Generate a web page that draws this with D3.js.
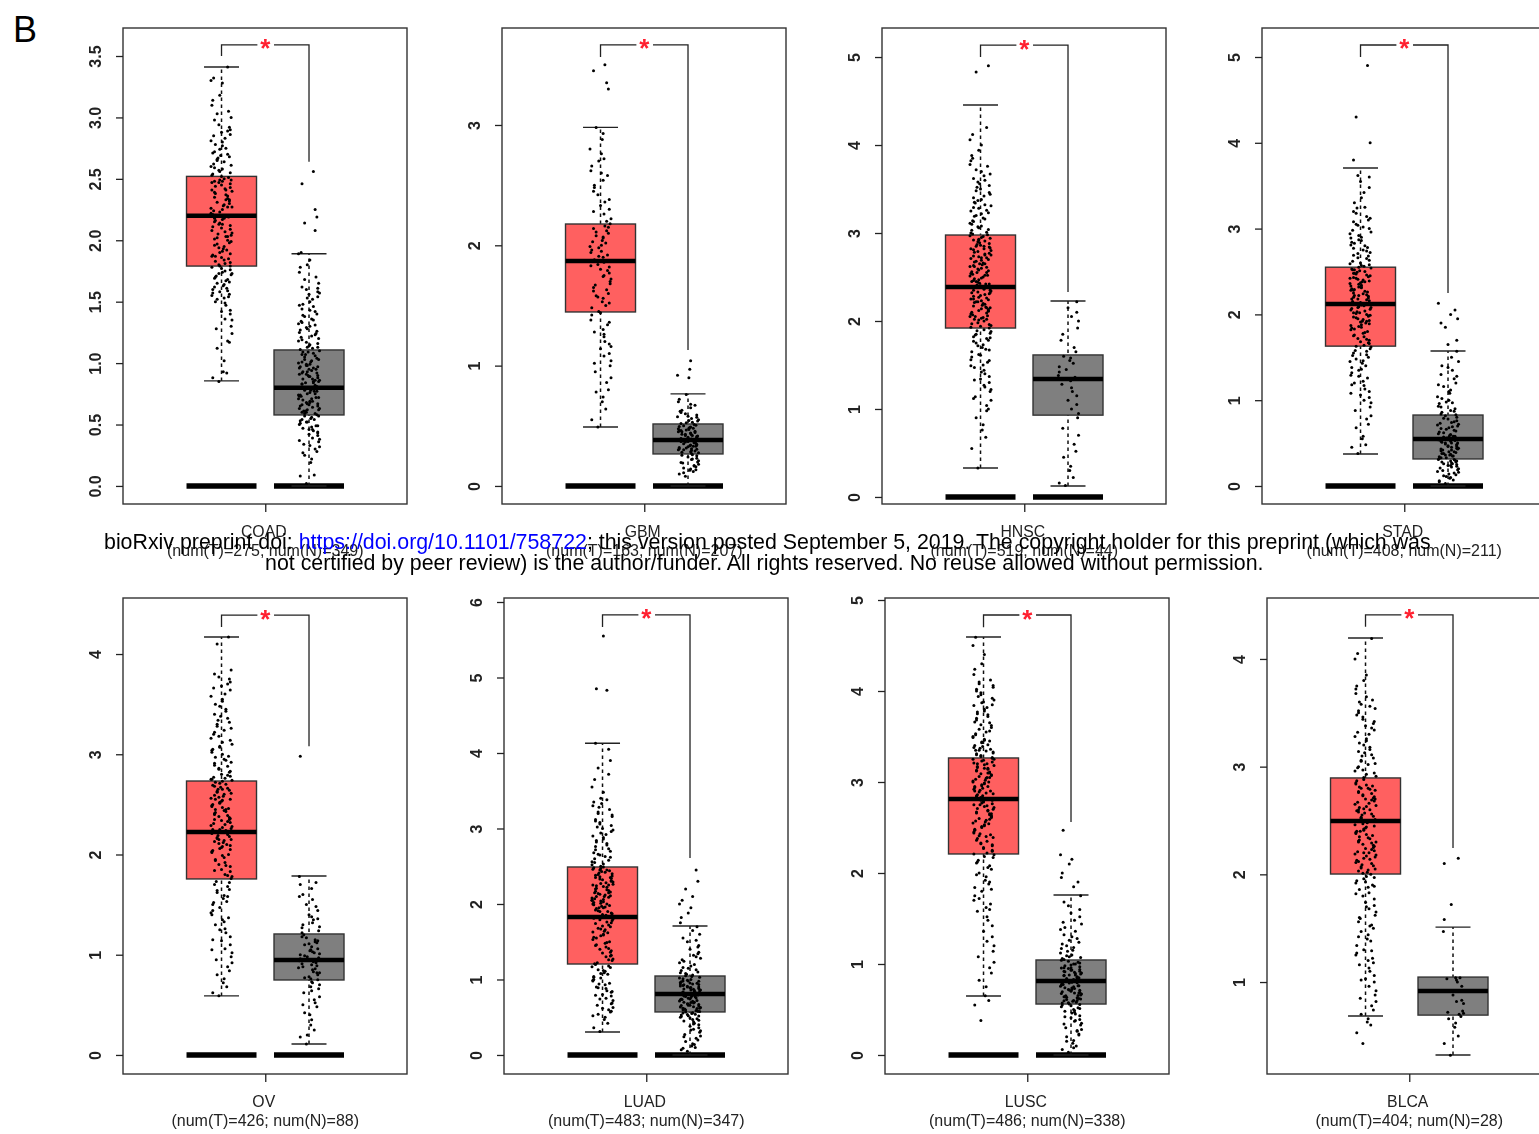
<!DOCTYPE html>
<html>
<head>
<meta charset="utf-8">
<script src="https://cdn.jsdelivr.net/npm/d3@7"></script>
<style>
  html, body { margin: 0; padding: 0; background: #fff; overflow: hidden; }
  svg { display: block; font-family: "Liberation Sans", Arial, sans-serif; }
</style>
</head>
<body>
<div id="chart"></div>
<script>
const cancers = ["COAD", "GBM", "HNSC", "STAD", "OV", "LUAD", "LUSC", "BLCA"];
const numT = [275, 163, 519, 408, 426, 483, 486, 404];
const numN = [349, 207, 44, 211, 88, 347, 338, 28];

const yDomains = [[-0.147, 3.728], [-0.15, 3.806], [-0.08, 5.33], [-0.21, 5.338], [-0.19, 4.559], [-0.252, 6.053], [-0.209, 5.022], [0.146, 4.566]];
const yTicks = [[0, 0.5, 1, 1.5, 2, 2.5, 3, 3.5], [0, 1, 2, 3], [0, 1, 2, 3, 4, 5], [0, 1, 2, 3, 4, 5], [0, 1, 2, 3, 4], [0, 1, 2, 3, 4, 5, 6], [0, 1, 2, 3, 4, 5], [1, 2, 3, 4]];

// whisker low, q1, median, q3, whisker high
const tumorBoxes = [[0.855, 1.79, 2.2, 2.52, 3.41], [0.49, 1.446, 1.87, 2.177, 2.98], [0.33, 1.92, 2.386, 2.977, 4.455], [0.373, 1.63, 2.12, 2.55, 3.706], [0.589, 1.756, 2.224, 2.733, 4.17], [0.305, 1.205, 1.828, 2.49, 4.13], [0.648, 2.209, 2.813, 3.264, 4.593], [0.684, 2.003, 2.495, 2.895, 4.195]];
const normalBoxes = [[0, 0.578, 0.8, 1.107, 1.89], [0, 0.266, 0.382, 0.515, 0.765], [0.125, 0.93, 1.34, 1.614, 2.227], [0, 0.315, 0.548, 0.827, 1.573], [0.11, 0.748, 0.948, 1.207, 1.786], [0, 0.57, 0.808, 1.046, 1.709], [0, 0.56, 0.813, 1.044, 1.758], [0.322, 0.693, 0.916, 1.046, 1.51]];

// bracket top, left foot, right foot
const brackets = [[3.59, 3.5, 2.64], [3.665, 3.565, 1.13], [5.136, 5.0, 2.33], [5.14, 5.0, 2.25], [4.389, 4.27, 3.08], [5.83, 5.67, 2.61], [4.835, 4.7, 2.56], [4.41, 4.3, 2.245]];

const jitter = [-0.03, 0.09, -0.11, 0.04, 0.11, -0.07, 0.01, -0.1, 0.07, -0.02, 0.1, -0.05, 0.03, -0.12, 0.06, -0.08, 0.12, 0, -0.04, 0.08, -0.09, 0.02, 0.05, -0.06, 0.1, -0.01, -0.11, 0.07, 0.03, -0.07, 0.11, -0.03, 0.05, -0.1, 0.09, -0.05, 0.01, 0.12, -0.08, 0.04, -0.02];

const tumorPoints = [
  [0.85,0.88,0.92,0.93,1.02,1.12,1.17,1.18,1.24,1.28,1.3,1.35,1.36,1.4,1.42,1.43,1.47,1.49,1.5,1.53,1.54,1.55,1.57,1.58,1.6,1.61,1.63,1.64,1.65,1.66,1.68,1.69,1.71,1.72,1.73,1.75,1.76,1.77,1.79,1.8,1.81,1.83,1.84,1.85,1.87,1.88,1.9,1.91,1.92,1.93,1.95,1.97,1.98,2,2.01,2.03,2.04,2.06,2.07,2.09,2.1,2.12,2.13,2.15,2.16,2.18,2.19,2.2,2.21,2.23,2.25,2.26,2.28,2.29,2.31,2.32,2.34,2.35,2.37,2.38,2.4,2.42,2.43,2.45,2.46,2.47,2.48,2.49,2.5,2.51,2.53,2.54,2.56,2.58,2.6,2.62,2.64,2.66,2.68,2.7,2.72,2.75,2.78,2.8,2.83,2.86,2.88,2.9,2.94,2.98,3,3.03,3.05,3.1,3.14,3.18,3.28,3.3,3.32,3.41],
  [0.49,0.55,0.64,0.7,0.74,0.78,0.8,0.86,0.9,0.95,1,1.04,1.08,1.1,1.14,1.18,1.2,1.24,1.28,1.3,1.34,1.38,1.42,1.45,1.48,1.5,1.53,1.56,1.58,1.6,1.63,1.65,1.67,1.7,1.72,1.75,1.77,1.8,1.82,1.84,1.86,1.88,1.9,1.92,1.94,1.96,1.98,2,2.02,2.04,2.06,2.08,2.1,2.12,2.14,2.16,2.18,2.22,2.26,2.3,2.33,2.38,2.42,2.45,2.5,2.54,2.58,2.62,2.66,2.7,2.76,2.8,2.88,2.93,2.98,3.3,3.35,3.45,3.5],
  [0.33,0.55,0.68,0.76,0.82,0.9,1,1.04,1.1,1.14,1.2,1.22,1.27,1.3,1.34,1.37,1.4,1.44,1.47,1.5,1.53,1.56,1.59,1.62,1.65,1.68,1.7,1.73,1.75,1.78,1.8,1.82,1.84,1.86,1.88,1.9,1.92,1.94,1.96,1.98,2,2.02,2.04,2.06,2.08,2.1,2.12,2.14,2.16,2.18,2.2,2.22,2.24,2.26,2.28,2.3,2.32,2.34,2.36,2.38,2.4,2.42,2.44,2.46,2.48,2.5,2.52,2.54,2.56,2.58,2.6,2.62,2.64,2.66,2.68,2.7,2.72,2.74,2.76,2.78,2.8,2.82,2.84,2.86,2.88,2.9,2.92,2.94,2.96,2.98,3,3.03,3.06,3.08,3.11,3.14,3.17,3.2,3.23,3.26,3.29,3.32,3.35,3.38,3.42,3.46,3.5,3.54,3.58,3.62,3.67,3.72,3.76,3.82,3.88,3.94,4,4.06,4.12,4.2,4.83,4.9],
  [0.38,0.45,0.48,0.55,0.58,0.68,0.72,0.78,0.82,0.88,0.92,0.97,1,1.03,1.06,1.1,1.13,1.17,1.2,1.22,1.26,1.29,1.32,1.35,1.38,1.4,1.43,1.46,1.48,1.5,1.53,1.55,1.58,1.6,1.62,1.64,1.66,1.68,1.7,1.72,1.74,1.76,1.78,1.8,1.82,1.84,1.86,1.88,1.9,1.92,1.94,1.96,1.98,2,2.02,2.04,2.06,2.08,2.1,2.12,2.14,2.16,2.18,2.2,2.22,2.24,2.26,2.28,2.3,2.32,2.34,2.36,2.38,2.4,2.42,2.44,2.46,2.48,2.5,2.52,2.54,2.56,2.58,2.6,2.63,2.66,2.69,2.72,2.75,2.78,2.81,2.84,2.87,2.9,2.94,2.98,3.02,3.05,3.1,3.14,3.2,3.25,3.3,3.36,3.42,3.48,3.55,3.6,3.62,3.8,4,4.3,4.9],
  [0.59,0.62,0.68,0.72,0.76,0.8,0.84,0.88,0.92,0.95,0.98,1.02,1.06,1.1,1.14,1.18,1.22,1.26,1.3,1.33,1.37,1.4,1.44,1.47,1.5,1.53,1.56,1.59,1.62,1.65,1.68,1.7,1.73,1.76,1.78,1.8,1.83,1.85,1.88,1.9,1.92,1.95,1.97,2,2.02,2.04,2.06,2.08,2.1,2.12,2.14,2.16,2.18,2.2,2.22,2.24,2.26,2.28,2.3,2.32,2.34,2.36,2.38,2.4,2.42,2.44,2.46,2.48,2.5,2.52,2.54,2.56,2.58,2.6,2.62,2.64,2.66,2.68,2.7,2.72,2.74,2.76,2.78,2.8,2.83,2.86,2.89,2.92,2.95,2.98,3.02,3.05,3.08,3.12,3.16,3.2,3.24,3.28,3.32,3.36,3.4,3.45,3.5,3.55,3.6,3.64,3.68,3.72,3.77,3.8,3.84,4.1,4.17],
  [0.31,0.36,0.42,0.47,0.5,0.54,0.57,0.6,0.63,0.66,0.69,0.72,0.75,0.78,0.8,0.83,0.85,0.88,0.9,0.93,0.95,0.98,1,1.02,1.04,1.07,1.09,1.11,1.13,1.16,1.18,1.2,1.22,1.25,1.27,1.3,1.32,1.35,1.38,1.4,1.43,1.46,1.48,1.5,1.53,1.56,1.58,1.6,1.62,1.64,1.66,1.68,1.7,1.72,1.74,1.76,1.78,1.8,1.82,1.84,1.86,1.88,1.9,1.92,1.94,1.96,1.98,2,2.02,2.04,2.06,2.08,2.1,2.12,2.14,2.16,2.18,2.2,2.22,2.24,2.26,2.28,2.3,2.32,2.34,2.36,2.38,2.4,2.42,2.44,2.46,2.48,2.5,2.53,2.56,2.6,2.63,2.66,2.7,2.73,2.76,2.8,2.84,2.88,2.92,2.96,3,3.04,3.08,3.12,3.16,3.2,3.25,3.3,3.35,3.4,3.48,3.55,3.65,3.72,3.8,3.9,4.05,4.13,4.83,4.85,5.55],
  [0.38,0.55,0.6,0.65,0.75,0.82,0.9,0.96,1.02,1.08,1.14,1.2,1.25,1.3,1.36,1.42,1.48,1.52,1.58,1.62,1.66,1.7,1.75,1.8,1.84,1.88,1.92,1.96,2,2.04,2.08,2.11,2.14,2.17,2.2,2.22,2.24,2.27,2.3,2.32,2.35,2.38,2.4,2.42,2.44,2.47,2.5,2.52,2.54,2.56,2.58,2.6,2.62,2.64,2.66,2.68,2.7,2.72,2.74,2.76,2.78,2.8,2.82,2.84,2.86,2.88,2.9,2.92,2.94,2.96,2.98,3,3.02,3.04,3.06,3.08,3.1,3.12,3.14,3.16,3.18,3.2,3.22,3.24,3.26,3.28,3.3,3.32,3.34,3.36,3.38,3.4,3.43,3.46,3.49,3.52,3.55,3.58,3.62,3.65,3.68,3.72,3.75,3.78,3.82,3.85,3.88,3.92,3.96,4,4.04,4.08,4.12,4.18,4.24,4.3,4.4,4.5,4.59],
  [0.43,0.53,0.6,0.63,0.66,0.7,0.74,0.78,0.82,0.85,0.88,0.92,0.96,1,1.03,1.06,1.1,1.13,1.16,1.2,1.22,1.25,1.27,1.3,1.34,1.38,1.4,1.44,1.47,1.5,1.53,1.56,1.59,1.62,1.65,1.68,1.71,1.74,1.77,1.8,1.83,1.86,1.88,1.9,1.92,1.94,1.96,1.98,2,2.02,2.04,2.06,2.08,2.1,2.12,2.14,2.16,2.18,2.2,2.22,2.24,2.26,2.28,2.3,2.32,2.34,2.36,2.38,2.4,2.42,2.44,2.46,2.48,2.5,2.52,2.54,2.56,2.58,2.6,2.62,2.64,2.66,2.68,2.7,2.72,2.74,2.76,2.78,2.8,2.82,2.84,2.87,2.9,2.93,2.96,2.99,3.02,3.05,3.08,3.11,3.14,3.18,3.22,3.26,3.3,3.34,3.38,3.42,3.46,3.5,3.54,3.58,3.62,3.68,3.75,3.8,3.85,4.0,4.05,4.19]
];

// second pass over the crowded middle of each tumour cloud
const tumorExtra = [
  [1.52,1.56,1.59,1.62,1.67,1.7,1.74,1.78,1.82,1.86,1.89,1.94,1.96,1.99,2.02,2.05,2.08,2.11,2.14,2.17,2.22,2.24,2.27,2.3,2.33,2.36,2.39,2.41,2.44,2.48,2.47,2.49,2.52,2.55,2.57,2.59,2.61,2.65,2.67,2.69,2.71,2.74,2.77,2.81,2.85,2.89,2.92,1.73,2.03,2.18,2.33,1.87,2.13,2.41,1.79,2.27],
  [1.02,1.16,1.26,1.36,1.44,1.52,1.57,1.62,1.68,1.74,1.79,1.83,1.87,1.91,1.95,1.99,2.03,2.07,2.11,2.15,2.2,2.28,2.36,2.48,2.6,2.72],
  [0.98,1.12,1.25,1.33,1.42,1.49,1.55,1.61,1.67,1.72,1.77,1.81,1.85,1.89,1.93,1.97,2.01,2.03,2.05,2.07,2.09,2.11,2.13,2.15,2.17,2.19,2.21,2.23,2.25,2.27,2.29,2.31,2.33,2.35,2.37,2.39,2.41,2.43,2.45,2.47,2.49,2.51,2.53,2.55,2.57,2.59,2.61,2.63,2.65,2.67,2.69,2.71,2.73,2.75,2.77,2.79,2.81,2.83,2.85,2.87,2.89,2.91,2.93,2.95,2.97,2.99,3.01,3.04,3.07,3.1,3.13,3.16,3.19,3.22,3.25,3.28,3.31,3.34,3.37,3.4,3.44,3.48,3.52,3.56,3.6,3.65,3.7,3.78,3.85,2.02,2.12,2.22,2.32,2.42,2.52,2.62,2.72,2.82,2.92,1.95,2.05,2.15,2.25,2.35,2.45,2.55,2.65,2.75,2.85],
  [1.08,1.18,1.28,1.36,1.45,1.52,1.57,1.63,1.67,1.71,1.75,1.79,1.83,1.85,1.87,1.89,1.91,1.93,1.95,1.97,1.99,2.01,2.03,2.05,2.07,2.09,2.11,2.13,2.15,2.17,2.19,2.21,2.23,2.25,2.27,2.29,2.31,2.33,2.35,2.37,2.39,2.41,2.43,2.45,2.47,2.49,2.51,2.53,2.55,2.57,2.59,2.62,2.65,2.68,2.71,2.74,2.77,2.8,2.83,2.86,2.89,2.92,2.96,3,3.04,3.08,3.12,3.18,3.24,2.02,2.12,2.22,2.32,2.42,2.52,1.92,1.98,2.08,2.18,2.28,2.38,2.48],
  [1.05,1.15,1.25,1.35,1.42,1.52,1.58,1.64,1.72,1.79,1.84,1.89,1.94,1.99,2.03,2.05,2.07,2.09,2.11,2.13,2.15,2.17,2.19,2.21,2.23,2.25,2.27,2.29,2.31,2.33,2.35,2.37,2.39,2.41,2.43,2.45,2.47,2.49,2.51,2.53,2.55,2.57,2.59,2.61,2.63,2.65,2.67,2.69,2.71,2.73,2.75,2.77,2.79,2.82,2.85,2.88,2.91,2.94,2.97,3,3.04,3.07,3.1,3.14,3.18,3.22,3.26,3.3,3.34,3.38,3.43,3.48,3.53,3.58,3.66,3.7,3.75,2.15,2.25,2.35,2.45,2.55,2.65,2.75],
  [0.52,0.58,0.62,0.68,0.74,0.79,0.84,0.89,0.94,0.99,1.03,1.08,1.12,1.17,1.21,1.26,1.31,1.36,1.41,1.45,1.49,1.55,1.59,1.63,1.67,1.71,1.75,1.79,1.83,1.87,1.91,1.95,1.97,1.99,2.01,2.03,2.05,2.07,2.09,2.11,2.13,2.15,2.17,2.19,2.21,2.23,2.25,2.27,2.29,2.31,2.33,2.35,2.37,2.39,2.41,2.43,2.45,2.47,2.49,2.52,2.55,2.58,2.62,2.65,2.68,2.72,2.78,2.82,2.86,2.9,2.94,2.98,3.02,3.06,3.1,3.18,3.22,3.28,3.33,3.38,1.85,1.95,2.05,2.15,2.25,2.35,2.45,1.81,1.9,2.0,2.1],
  [1.6,1.72,1.82,1.9,1.98,2.06,2.12,2.18,2.21,2.25,2.28,2.31,2.33,2.36,2.39,2.41,2.43,2.45,2.48,2.51,2.53,2.55,2.57,2.59,2.61,2.63,2.65,2.67,2.69,2.71,2.73,2.75,2.77,2.79,2.81,2.83,2.85,2.87,2.89,2.91,2.93,2.95,2.97,2.99,3.01,3.03,3.05,3.07,3.09,3.11,3.13,3.15,3.17,3.19,3.21,3.23,3.25,3.27,3.29,3.31,3.33,3.35,3.37,3.39,3.41,3.44,3.47,3.5,3.53,3.56,3.6,3.63,3.66,3.7,3.74,3.77,3.8,3.84,3.87,3.9,3.94,3.98,4.02,4.06,4.1,2.75,2.85,2.95,3.05,3.15,3.25,3.35,3.45,2.65,2.8,2.9,3,3.1,3.2],
  [1.02,1.18,1.29,1.42,1.52,1.6,1.7,1.82,1.89,1.93,1.97,2.01,2.03,2.05,2.07,2.09,2.11,2.13,2.15,2.17,2.19,2.21,2.23,2.25,2.27,2.29,2.31,2.33,2.35,2.37,2.39,2.41,2.43,2.45,2.47,2.49,2.51,2.53,2.55,2.57,2.59,2.61,2.63,2.65,2.67,2.69,2.71,2.73,2.75,2.77,2.79,2.81,2.83,2.85,2.88,2.91,2.94,2.97,3,3.03,3.06,3.1,3.13,3.16,3.2,3.24,3.28,3.32,3.36,3.4,3.44,3.48,3.52,3.56,3.6,3.65,3.72,2.2,2.3,2.4,2.5,2.6,2.7,2.8]
];

const normalPoints = [
  [0.02,0.08,0.09,0.19,0.22,0.25,0.28,0.3,0.32,0.34,0.36,0.38,0.39,0.41,0.42,0.43,0.45,0.46,0.47,0.48,0.49,0.5,0.51,0.52,0.53,0.54,0.55,0.56,0.57,0.58,0.59,0.6,0.61,0.62,0.63,0.64,0.65,0.66,0.67,0.68,0.69,0.7,0.71,0.72,0.73,0.74,0.75,0.76,0.77,0.78,0.79,0.8,0.81,0.82,0.83,0.84,0.85,0.86,0.87,0.88,0.89,0.9,0.91,0.92,0.93,0.94,0.95,0.96,0.97,0.98,0.99,1,1.01,1.02,1.03,1.04,1.06,1.07,1.08,1.09,1.1,1.12,1.13,1.14,1.16,1.17,1.19,1.2,1.22,1.24,1.25,1.27,1.28,1.3,1.32,1.34,1.36,1.38,1.4,1.42,1.44,1.46,1.48,1.5,1.52,1.54,1.56,1.58,1.6,1.62,1.65,1.68,1.7,1.74,1.78,1.8,1.84,1.89,1.9,2.08,2.14,2.19,2.25,2.46,2.56],
  [0.08,0.1,0.12,0.13,0.14,0.15,0.16,0.17,0.18,0.19,0.2,0.21,0.22,0.23,0.24,0.25,0.26,0.27,0.28,0.285,0.29,0.3,0.31,0.315,0.32,0.33,0.335,0.34,0.35,0.355,0.36,0.37,0.375,0.38,0.385,0.39,0.4,0.405,0.41,0.42,0.425,0.43,0.44,0.445,0.45,0.46,0.465,0.47,0.48,0.485,0.49,0.5,0.505,0.51,0.52,0.53,0.54,0.55,0.56,0.57,0.58,0.59,0.6,0.61,0.63,0.65,0.67,0.7,0.72,0.76,0.9,0.92,0.97,1.04],
  [0.13,0.16,0.22,0.3,0.35,0.45,0.52,0.6,0.7,0.78,0.9,0.95,1,1.05,1.1,1.15,1.2,1.24,1.28,1.32,1.36,1.38,1.42,1.45,1.48,1.52,1.55,1.58,1.6,1.65,1.7,1.78,1.85,1.92,2,2.05,2.1,2.15,2.22],
  [0.03,0.05,0.07,0.09,0.1,0.12,0.13,0.15,0.16,0.18,0.19,0.2,0.22,0.23,0.24,0.25,0.26,0.27,0.28,0.29,0.3,0.31,0.32,0.33,0.34,0.35,0.36,0.37,0.38,0.39,0.4,0.41,0.42,0.43,0.44,0.45,0.46,0.47,0.48,0.49,0.5,0.51,0.52,0.53,0.54,0.55,0.56,0.57,0.58,0.59,0.6,0.62,0.64,0.65,0.67,0.69,0.7,0.72,0.74,0.76,0.78,0.8,0.82,0.84,0.86,0.88,0.9,0.93,0.96,0.98,1,1.04,1.08,1.12,1.16,1.2,1.25,1.3,1.35,1.4,1.45,1.5,1.57,1.65,1.7,1.85,1.9,1.95,2,2.05,2.13],
  [0.11,0.18,0.25,0.3,0.35,0.42,0.48,0.52,0.58,0.62,0.66,0.7,0.72,0.75,0.78,0.8,0.83,0.85,0.88,0.9,0.92,0.94,0.96,0.98,1,1.02,1.05,1.08,1.1,1.12,1.15,1.18,1.2,1.24,1.28,1.32,1.36,1.4,1.44,1.5,1.55,1.6,1.66,1.72,1.78,2.98],
  [0.05,0.07,0.1,0.12,0.15,0.18,0.2,0.22,0.25,0.27,0.3,0.32,0.34,0.36,0.38,0.4,0.42,0.44,0.45,0.47,0.48,0.5,0.51,0.52,0.53,0.54,0.55,0.56,0.57,0.58,0.59,0.6,0.61,0.62,0.63,0.64,0.65,0.66,0.67,0.68,0.69,0.7,0.71,0.72,0.73,0.74,0.75,0.76,0.77,0.78,0.79,0.8,0.81,0.82,0.83,0.84,0.85,0.86,0.87,0.88,0.89,0.9,0.91,0.92,0.93,0.94,0.95,0.96,0.97,0.98,1,1.02,1.04,1.06,1.08,1.1,1.13,1.16,1.2,1.24,1.28,1.32,1.36,1.4,1.45,1.5,1.55,1.6,1.65,1.7,1.75,1.82,1.88,1.95,2,2.05,2.1,2.2,2.3,2.45],
  [0.03,0.06,0.1,0.13,0.16,0.2,0.23,0.26,0.28,0.3,0.33,0.35,0.37,0.39,0.41,0.43,0.45,0.47,0.48,0.5,0.52,0.53,0.55,0.56,0.57,0.58,0.59,0.6,0.61,0.62,0.63,0.64,0.65,0.66,0.67,0.68,0.69,0.7,0.71,0.72,0.73,0.74,0.75,0.76,0.77,0.78,0.79,0.8,0.81,0.82,0.83,0.84,0.85,0.86,0.87,0.88,0.89,0.9,0.91,0.92,0.93,0.94,0.95,0.96,0.98,1,1.02,1.04,1.06,1.08,1.1,1.12,1.15,1.18,1.2,1.24,1.28,1.32,1.36,1.4,1.44,1.48,1.52,1.56,1.6,1.64,1.68,1.75,1.85,1.9,1.95,2,2.1,2.15,2.2,2.47],
  [0.32,0.43,0.5,0.58,0.62,0.66,0.68,0.7,0.71,0.72,0.73,0.8,0.82,0.83,0.88,0.96,1,1.02,1.03,1.04,1.04,1.47,1.58,1.72,2.1,2.15]
];

const normalExtra = [
  [0.27,0.33,0.37,0.44,0.46,0.49,0.52,0.54,0.57,0.59,0.61,0.63,0.65,0.67,0.69,0.71,0.73,0.75,0.77,0.79,0.81,0.83,0.85,0.87,0.89,0.91,0.93,0.95,0.97,0.99,1.01,1.03,1.05,1.07,1.09,1.11,1.13,1.15,1.18,1.21,1.23,1.26,1.29,1.31,1.33,1.35,1.39,1.43,1.47,1.53,1.57,1.61,0.6,0.66,0.72,0.78,0.84,0.9,0.96,0.62,0.68,0.74,0.8,0.86,0.92,0.98],
  [0.11,0.135,0.165,0.195,0.225,0.255,0.275,0.295,0.305,0.325,0.345,0.365,0.395,0.415,0.435,0.455,0.475,0.495,0.525,0.545,0.575,0.62,0.68,0.3,0.33,0.36,0.39,0.42,0.45,0.48,0.31,0.34,0.37,0.4,0.43,0.46],
  [],
  [0.06,0.11,0.14,0.17,0.21,0.24,0.26,0.28,0.31,0.33,0.35,0.38,0.4,0.42,0.44,0.46,0.48,0.5,0.52,0.54,0.56,0.58,0.61,0.63,0.66,0.68,0.71,0.73,0.75,0.79,0.83,0.87,0.92,0.97,1.02,1.1,1.18,1.28,1.38,0.29,0.36,0.43,0.5,0.57],
  [0.2,0.4,0.55,0.68,0.73,0.77,0.82,0.86,0.91,0.93,0.97,1.01,1.03,1.06,1.11,1.14,1.17,1.22,1.3,1.38,1.48,1.58,1.7,0.95,1.04,0.87,0.76,0.64,0.99,0.89,1.13,1.27,1.35,0.5,0.82],
  [0.09,0.14,0.24,0.33,0.41,0.46,0.49,0.515,0.535,0.555,0.575,0.595,0.615,0.635,0.655,0.675,0.695,0.715,0.735,0.755,0.775,0.795,0.815,0.835,0.855,0.875,0.895,0.915,0.935,0.955,0.975,0.99,1.01,1.03,1.05,1.07,1.09,1.12,1.15,1.18,1.22,1.26,1.3,1.34,1.43,1.52,0.62,0.7,0.78,0.86,0.94,0.66,0.74,0.82,0.9,0.98],
  [0.08,0.15,0.22,0.27,0.34,0.38,0.42,0.46,0.49,0.51,0.54,0.555,0.575,0.595,0.615,0.635,0.655,0.675,0.695,0.715,0.735,0.755,0.775,0.795,0.815,0.835,0.855,0.875,0.895,0.915,0.935,0.955,0.97,0.99,1.01,1.03,1.05,1.07,1.09,1.14,1.17,1.22,1.26,1.3,1.38,1.46,0.6,0.68,0.76,0.84,0.92,1,0.64,0.72,0.8,0.88,0.96],
  []
];

const frameLeft = [123, 502, 882, 1262, 123, 504, 885, 1267];
const frameTop = [28, 28, 28, 28, 598, 598, 598, 598];
const frameW = 284;
const frameH = 476;

const svg = d3.select("#chart").append("svg")
    .attr("width", 1539)
    .attr("height", 1134)
    .attr("viewBox", [0, 0, 1539, 1134]);

svg.append("text")
    .attr("x", 13)
    .attr("y", 42)
    .attr("font-size", 36)
    .attr("fill", "#000")
    .text("B");

cancers.forEach((name, i) => {
  const g = svg.append("g")
      .attr("transform", `translate(${frameLeft[i]},${frameTop[i]})`)
      .style("filter", "blur(0.45px)");
  const x = d3.scaleLinear().domain([-0.126, 3.12]).range([0, frameW]);
  const y = d3.scaleLinear().domain(yDomains[i]).range([frameH, 0]);
  const boxHalf = 0.4;
  const capHalf = 0.2;
  const fmt = i === 0 ? d3.format(".1f") : d3.format("d");

  g.append("rect")
      .attr("width", frameW)
      .attr("height", frameH)
      .attr("fill", "none")
      .attr("stroke", "#333")
      .attr("stroke-width", 1.4);

  // Y axis, R style with rotated labels
  g.append("g")
      .call(d3.axisLeft(y).tickValues(yTicks[i]).tickSize(7).tickFormat(fmt))
      .call(a => a.select(".domain").remove())
      .call(a => a.selectAll(".tick line").attr("stroke", "#222").attr("stroke-width", 1.3))
      .call(a => a.selectAll(".tick text")
          .attr("font-family", "Liberation Sans")
          .attr("font-size", 16)
          .attr("font-weight", "bold")
          .attr("fill", "#222")
          .attr("text-anchor", "middle")
          .attr("transform", "rotate(-90)")
          .attr("x", 0)
          .attr("y", -22)
          .attr("dy", 0));

  // X axis, single tick with the cancer name
  g.append("g")
      .attr("transform", `translate(0,${frameH})`)
      .call(d3.axisBottom(x).tickValues([1.5]).tickSize(8).tickFormat(() => name))
      .call(a => a.select(".domain").remove())
      .call(a => a.selectAll(".tick line").attr("stroke", "#222").attr("stroke-width", 1.3))
      .call(a => a.selectAll(".tick text")
          .attr("font-family", "Liberation Sans")
          .attr("font-size", 15.8)
          .attr("fill", "#222")
          .attr("y", 33)
          .attr("dy", 0)
          .attr("dx", -2));

  g.append("text")
      .attr("x", x(1.5))
      .attr("y", frameH + 52)
      .attr("text-anchor", "middle")
      .attr("font-size", 16)
      .attr("fill", "#222")
      .text(`(num(T)=${numT[i]}; num(N)=${numN[i]})`);

  // Zero bars under each group
  if (yDomains[i][0] < 0) {
    [1, 2].forEach(pos => {
      g.append("line")
          .attr("x1", x(pos - boxHalf))
          .attr("x2", x(pos + boxHalf))
          .attr("y1", y(0))
          .attr("y2", y(0))
          .attr("stroke", "#000")
          .attr("stroke-width", 5.5);
    });
  }

  // Boxes
  [[1, tumorBoxes[i], "#ff6060"], [2, normalBoxes[i], "#7f7f7f"]].forEach(([pos, b, fill]) => {
    const [lo, q1, med, q3, hi] = b;
    g.append("line")
        .attr("x1", x(pos)).attr("x2", x(pos))
        .attr("y1", y(lo)).attr("y2", y(hi))
        .attr("stroke", "#111")
        .attr("stroke-width", 1.5)
        .attr("stroke-dasharray", "3.5 3.5");
    [lo, hi].forEach(v => {
      g.append("line")
          .attr("x1", x(pos - capHalf)).attr("x2", x(pos + capHalf))
          .attr("y1", y(v)).attr("y2", y(v))
          .attr("stroke", "#222")
          .attr("stroke-width", 1.4);
    });
    g.append("rect")
        .attr("x", x(pos - boxHalf))
        .attr("width", x(pos + boxHalf) - x(pos - boxHalf))
        .attr("y", y(q3))
        .attr("height", y(q1) - y(q3))
        .attr("fill", fill)
        .attr("stroke", "#333")
        .attr("stroke-width", 1.4);
    g.append("line")
        .attr("x1", x(pos - boxHalf)).attr("x2", x(pos + boxHalf))
        .attr("y1", y(med)).attr("y2", y(med))
        .attr("stroke", "#000")
        .attr("stroke-width", 4.5);
  });

  // Jittered points
  [[1, tumorPoints[i].concat(tumorExtra[i])], [2, normalPoints[i].concat(normalExtra[i])]].forEach(([pos, vals]) => {
    g.append("g").selectAll("circle")
      .data(vals)
      .join("circle")
        .attr("cx", (d, k) => x(pos + jitter[(k * 7 + (k >> 3)) % jitter.length]))
        .attr("cy", d => y(d))
        .attr("r", 1.5)
        .attr("fill", "#000");
  });

  // Significance bracket
  const [top, leftFoot, rightFoot] = brackets[i];
  g.append("path")
      .attr("d", d3.line()([[x(1), y(leftFoot)], [x(1), y(top)], [x(1.41), y(top)]]))
      .attr("fill", "none")
      .attr("stroke", "#222")
      .attr("stroke-width", 1.3);
  g.append("path")
      .attr("d", d3.line()([[x(1.6), y(top)], [x(2), y(top)], [x(2), y(rightFoot)]]))
      .attr("fill", "none")
      .attr("stroke", "#222")
      .attr("stroke-width", 1.3);
  g.append("text")
      .attr("x", x(1.5))
      .attr("y", y(top) + 12.5)
      .attr("text-anchor", "middle")
      .attr("font-size", 26)
      .attr("font-weight", "bold")
      .attr("fill", "#ff2030")
      .text("*");
});

// Preprint watermark overlaps the top row labels
const line1 = svg.append("text").attr("x", 104).attr("y", 549).attr("font-size", 21.36).attr("fill", "#000");
line1.append("tspan").text("bioRxiv preprint doi: ");
line1.append("tspan").attr("fill", "#0000ff").text("https://doi.org/10.1101/758722");
line1.append("tspan").text("; this version posted September 5, 2019. The copyright holder for this preprint (which was");
svg.append("text")
    .attr("x", 265).attr("y", 570).attr("font-size", 21.36).attr("fill", "#000")
    .text("not certified by peer review) is the author/funder. All rights reserved. No reuse allowed without permission.");
</script>
</body>
</html>
